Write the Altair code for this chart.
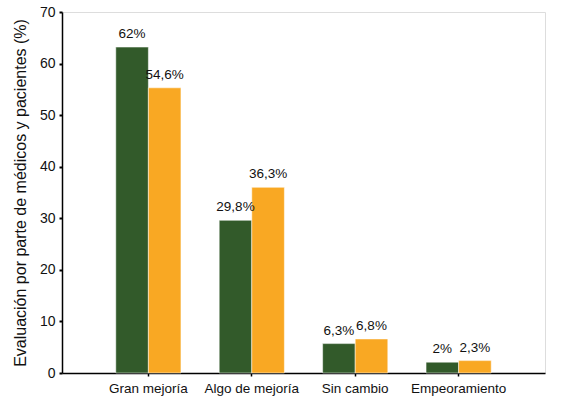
import altair as alt
import pandas as pd

categories = ["Gran mejoría", "Algo de mejoría", "Sin cambio", "Empeoramiento"]
groups = ["Médicos", "Pacientes"]
medicos = [63.2, 29.6, 5.7, 2.1]
pacientes = [55.3, 36.0, 6.6, 2.4]
medicos_lbl = ["62%", "29,8%", "6,3%", "2%"]
pacientes_lbl = ["54,6%", "36,3%", "6,8%", "2,3%"]
colors = ["#325a2a", "#f9a823"]

rows = []
for i, c in enumerate(categories):
    rows.append({"cat": c, "grp": groups[0], "val": medicos[i], "lbl": medicos_lbl[i]})
    rows.append({"cat": c, "grp": groups[1], "val": pacientes[i], "lbl": pacientes_lbl[i]})
df = pd.DataFrame(rows)

font = "Liberation Sans"

x = alt.X("cat:N", sort=categories, title=None,
          scale=alt.Scale(paddingInner=0.37, paddingOuter=0.52),
          axis=alt.Axis(labelAngle=0, labelFontSize=13.5, labelColor="#111", labelFont=font,
                        domainColor="#000", domainWidth=1.5, tickColor="#000", tickSize=3,
                        tickWidth=1.5, labelPadding=5))
xo = alt.XOffset("grp:N", sort=groups, scale=alt.Scale(paddingInner=0, paddingOuter=0))
y = alt.Y("val:Q", title="Evaluación por parte de médicos y pacientes (%)",
          scale=alt.Scale(domain=[0, 70], nice=False),
          axis=alt.Axis(values=list(range(0, 71, 10)), grid=False, labelFontSize=14,
                        labelColor="#111", labelFont=font, titleFont=font, titleFontSize=16,
                        titleFontWeight="normal", titleColor="#111", domainColor="#000",
                        domainWidth=1.5, tickColor="#000", tickSize=3, tickWidth=2,
                        labelPadding=4, titlePadding=11))

bars = alt.Chart(df).mark_bar(stroke="white", strokeWidth=0.5).encode(
    x=x, xOffset=xo, y=y,
    color=alt.Color("grp:N", sort=groups, scale=alt.Scale(domain=groups, range=colors), legend=None),
)
text = alt.Chart(df).mark_text(baseline="alphabetic", dy=-9, fontSize=13.5, font=font, color="#111").encode(
    x=x, xOffset=xo, y="val:Q", text="lbl:N"
)

chart = (bars + text).properties(
    width=483, height=361,
    padding={"left": 62, "top": 12, "right": 16, "bottom": 23},
    autosize=alt.AutoSizeParams(type="none"),
).configure_view(stroke=None).configure(background="white")

chart.save("out.html", embed_options={"renderer": "svg", "actions": False})
